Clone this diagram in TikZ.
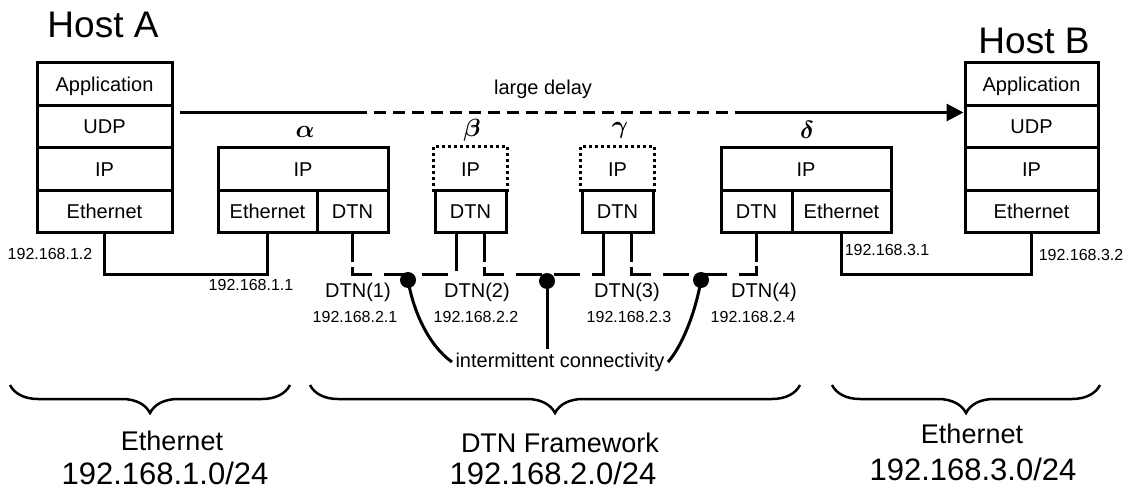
\documentclass[tikz,border=0pt]{standalone}
\usepackage{fontspec}
\usepackage{bm}
\setmainfont{Liberation Sans}
\usetikzlibrary{arrows.meta}
\usetikzlibrary{decorations.pathreplacing}
\usetikzlibrary{positioning}
\tikzset{x=1pt, y=-1pt,
cell/.style={ % one layer of a protocol stack
draw,
line width=3pt,
inner sep=0pt,
minimum height=42.5pt,
text height=14.3pt, text depth=0pt,
font=\fontsize{20}{24}\selectfont},
dotcell/.style={cell, draw=none}, % IP layer that is only there in part
link/.style={line width=3pt},
bus/.style={line width=3pt, dash pattern=on 26pt off 12pt, dash phase=33pt},
pin/.style={circle, fill, inner sep=0pt, minimum size=16pt},
title/.style={font=\fontsize{37}{42}\selectfont},
addr/.style={font=\fontsize{16}{19}\selectfont, inner sep=1pt},
lbl/.style={font=\fontsize{20}{24}\selectfont},
greek/.style={font=\fontsize{26}{30}\selectfont},
netname/.style={font=\fontsize{27}{32}\selectfont},
netaddr/.style={font=\fontsize{31}{36}\selectfont},
netbrace/.style={line width=2.5pt, decorate,
decoration={brace, mirror, amplitude=28pt}}}

\begin{document}
\begin{tikzpicture}
	\useasboundingbox (0,0) rectangle (1129,497);
	% Host A
	\node[title] (hA) at (103,25) {Host A};
	\node[cell, minimum width=135pt] (haapp) at (104.5,84) {Application};
	\node[cell, minimum width=135pt] (haudp) at (104.5,126.5) {UDP};
	\node[cell, minimum width=135pt] (haip) at (104.5,169) {IP};
	\node[cell, minimum width=135pt] (haeth) at (104.5,211.5) {Ethernet};
	% Host B
	\node[title] (hB) at (1034,41) {Host B};
	\node[cell, minimum width=133pt] (hbapp) at (1031.5,84) {Application};
	\node[cell, minimum width=133pt] (hbudp) at (1031.5,126.5) {UDP};
	\node[cell, minimum width=133pt] (hbip) at (1031.5,169) {IP};
	\node[cell, minimum width=133pt] (hbeth) at (1031.5,211.5) {Ethernet};
	% router alpha
	\node[greek] (lalpha) at (305,132) {$\bm{\alpha}$};
	\node[cell, minimum width=170pt] (aip) at (303,169) {IP};
	\node[cell, minimum width=99pt] (aeth) at (267.5,211.5) {Ethernet};
	\node[cell, minimum width=71pt] (adtn) at (352.5,211.5) {DTN};
	% node beta
	\node[greek] (lbeta) at (472,130) {$\bm{\beta}$};
	\node[dotcell, minimum width=71pt] (bip) at (470.5,169) {IP};
	\draw[link, dash pattern=on 3pt off 3pt] (bip.south west) -- (bip.north west) -- (bip.north east) -- (bip.south east);
	\node[cell, minimum width=71pt] (bdtn) at (470.5,211.5) {DTN};
	% node gamma
	\node[greek] (lgamma) at (620,130) {$\bm{\gamma}$};
	\node[dotcell, minimum width=71pt] (cip) at (617.5,169) {IP};
	\draw[link, dash pattern=on 3pt off 3pt] (cip.south west) -- (cip.north west) -- (cip.north east) -- (cip.south east);
	\node[cell, minimum width=71pt] (cdtn) at (617.5,211.5) {DTN};
	% router delta
	\node[greek] (ldelta) at (807,130) {$\bm{\delta}$};
	\node[cell, minimum width=170pt] (dip) at (806,169) {IP};
	\node[cell, minimum width=71pt] (ddtn) at (756.5,211.5) {DTN};
	\node[cell, minimum width=99pt] (deth) at (841.5,211.5) {Ethernet};

	% end to end path
	\node[lbl] (delay) at (543,89) {large delay};
	\coordinate (ld1) at (367,112.5);
	\coordinate (ld2) at (743,112.5);
	\draw[link] ([xshift=6pt,yshift=14pt]haudp.east) -- (ld1);
	\draw[link, dash pattern=on 12pt off 7pt, dash phase=12pt] (ld1) -- (ld2);
	\draw[link, -{Triangle[length=17pt,width=17pt]}] (ld2) -- (hbudp.west |- ld2);

	% ethernet segments
	\draw[link] (haeth.south) -- ++(0,40) -| (aeth.south);
	\draw[link] (deth.south) -- ++(0,40) -| (hbeth.south);

	% DTN legs and links
	\draw[link] (adtn.south) -- ++(0,28) coordinate (a1);
	\draw[link] ([xshift=-14pt]bdtn.south) -- ++(0,28) coordinate (b1);
	\draw[link] ([xshift=14pt]bdtn.south) -- ++(0,28) coordinate (b2);
	\draw[link] ([xshift=-14pt]cdtn.south) -- ++(0,28) coordinate (c1);
	\draw[link] ([xshift=14pt]cdtn.south) -- ++(0,28) coordinate (c2);
	\draw[link] (ddtn.south) -- ++(0,28) coordinate (d1);
	\draw[bus] (a1) -- ++(0,12) -| (b1);
	\draw[bus] (b2) -- ++(0,12) -| (c1);
	\draw[bus] (c2) -- ++(0,12) -| (d1);

	\node[pin] (p1) at (408,280) {};
	\node[pin] (p2) at (547,281) {};
	\node[pin] (p3) at (701,280) {};
	\node[lbl] (ic) at (560,362) {intermittent connectivity};
	\draw[link] (p1.center) .. controls (413,310) and (428,345) .. (ic.west);
	\draw[link] (p2.center) -- (ic.north -| p2);
	\draw[link] (p3.center) .. controls (696,310) and (683,345) .. (ic.east);

	% addresses
	\node[addr] (ad12) at (50,254) {192.168.1.2};
	\node[addr] (ad11) at (251,285) {192.168.1.1};
	\node[addr] (ad31) at (887,250) {192.168.3.1};
	\node[addr] (ad32) at (1081,255) {192.168.3.2};
	\node[lbl] (n1) at (358,292) {DTN(1)};
	\node[addr] (ad21) at (355,317) {192.168.2.1};
	\node[lbl] (n2) at (477,292) {DTN(2)};
	\node[addr] (ad22) at (476,317) {192.168.2.2};
	\node[lbl] (n3) at (627,292) {DTN(3)};
	\node[addr] (ad23) at (629,317) {192.168.2.3};
	\node[lbl] (n4) at (764,292) {DTN(4)};
	\node[addr] (ad24) at (753,317) {192.168.2.4};

	% networks
	\draw[netbrace] (10,385) -- (290,385);
	\draw[netbrace] (310,385) -- (800,385);
	\draw[netbrace] (832,385) -- (1100,385);
	\node[netname] (netA) at (172,441) {Ethernet};
	\node[netaddr] (ipA) at (165,473) {192.168.1.0/24};
	\node[netname] (netD) at (560,443) {DTN Framework};
	\node[netaddr] (ipD) at (553,473) {192.168.2.0/24};
	\node[netname] (netB) at (972,434) {Ethernet};
	\node[netaddr] (ipB) at (973,469) {192.168.3.0/24};
\end{tikzpicture}
\end{document}
